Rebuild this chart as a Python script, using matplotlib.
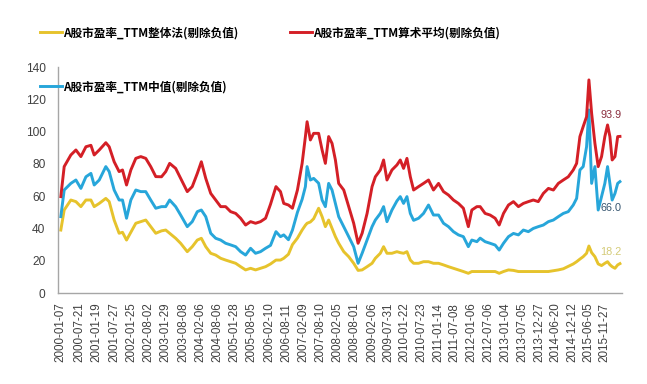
import matplotlib
matplotlib.use("Agg")
import matplotlib.pyplot as plt
import pandas as pd

plt.rcParams['font.family'] = ['Liberation Sans', 'Noto Sans CJK SC', 'DejaVu Sans']

dates = [
    "2000-01-07", "2000-02-12", "2000-04-23", "2000-06-16", "2000-08-08", "2000-10-01", "2000-11-23", "2000-12-28",
    "2001-02-20", "2001-05-01", "2001-06-06", "2001-07-29", "2001-09-20", "2001-10-26", "2001-12-08",
    "2002-01-23", "2002-03-17", "2002-05-09", "2002-07-01", "2002-08-23", "2002-10-16", "2002-12-16",
    "2003-01-30", "2003-03-13", "2003-05-16", "2003-07-08", "2003-09-17", "2003-11-09",
    "2004-01-02", "2004-02-14", "2004-04-01", "2004-05-24", "2004-07-16", "2004-09-07", "2004-10-30", "2004-12-22",
    "2005-02-14", "2005-04-08", "2005-05-31", "2005-07-23", "2005-09-14", "2005-11-06", "2005-12-30",
    "2006-02-21", "2006-04-20", "2006-06-07", "2006-07-12", "2006-08-31", "2006-10-13", "2006-12-05",
    "2007-01-24", "2007-02-28", "2007-03-18", "2007-04-22", "2007-05-27", "2007-07-19", "2007-08-25", "2007-09-29", "2007-11-03", "2007-12-09",
    "2008-01-14", "2008-02-18", "2008-04-12", "2008-06-04", "2008-07-27", "2008-09-12", "2008-10-25", "2008-12-17",
    "2009-02-08", "2009-03-15", "2009-05-07", "2009-06-11", "2009-07-17", "2009-09-08", "2009-10-31", "2009-12-06",
    "2010-01-10", "2010-02-15", "2010-03-23", "2010-04-27", "2010-06-19", "2010-08-11", "2010-10-03", "2010-11-25",
    "2011-01-18", "2011-03-12", "2011-05-04", "2011-06-26", "2011-08-18", "2011-10-10", "2011-12-02",
    "2012-01-08", "2012-03-02", "2012-04-06", "2012-05-29", "2012-07-21", "2012-09-13", "2012-10-26", "2012-12-11",
    "2013-02-02", "2013-03-27", "2013-05-19", "2013-07-11", "2013-09-02", "2013-10-25", "2013-12-17",
    "2014-02-09", "2014-04-04", "2014-05-27", "2014-07-19", "2014-09-10", "2014-11-02", "2014-12-25",
    "2015-01-30", "2015-03-06", "2015-04-10", "2015-05-16", "2015-06-10", "2015-07-09", "2015-08-13", "2015-09-17", "2015-10-23", "2015-11-27", "2015-12-26",
    "2016-01-20", "2016-02-13", "2016-03-14", "2016-04-12", "2016-05-06",
]

pe_mean = [
    59.7, 78.3, 85.5, 88.6, 84.5, 90.6, 91.5, 85.5,
    88.6, 93.1, 90.6, 81.3, 75.2, 76.2, 66.9,
    76.2, 83.4, 84.5, 83.4, 78.3, 72.1, 72.0,
    75.2, 80.3, 77.2, 71.0, 62.8, 65.9,
    74.1, 81.3, 71.0, 61.7, 57.6, 53.5, 53.5, 50.4,
    49.3, 46.3, 42.1, 44.2, 43.2, 44.2, 46.3,
    55.0, 65.9, 62.8, 55.5, 54.5, 52.5, 63.8,
    80.3, 96.9, 106.1, 94.8, 98.9, 98.9, 88.6, 80.3, 96.9, 92.7,
    82.4, 67.9, 63.8, 53.5, 43.2, 30.8, 37.0, 49.3,
    65.9, 72.0, 76.2, 82.4, 70.0, 76.2, 79.3, 82.4,
    77.2, 83.4, 72.0, 63.8, 65.9, 67.9, 70.0, 63.8,
    67.9, 62.8, 60.7, 57.6, 55.5, 52.5, 41.1,
    51.4, 53.5, 53.5, 49.3, 48.3, 46.3, 42.1, 49.3,
    54.5, 56.6, 53.5, 55.5, 56.6, 57.6, 56.6,
    61.7, 64.8, 63.8, 67.9, 70.0, 72.0, 76.2,
    80.3, 96.9, 103.1, 109.2, 132.0, 111.3, 92.7, 78.3, 84.5, 96.9, 104.1,
    96.9, 82.4, 84.5, 96.9, 97.0,
]

pe_median = [
    47.3, 63.8, 67.9, 70.0, 64.8, 72.0, 74.1, 66.9,
    70.0, 78.3, 75.2, 63.8, 57.6, 57.6, 46.3,
    57.6, 63.8, 62.8, 62.8, 57.6, 52.5, 53.5,
    53.5, 57.6, 53.5, 48.3, 41.1, 44.2,
    50.4, 51.4, 47.3, 37.0, 33.9, 32.8, 30.8, 29.8,
    28.7, 25.6, 23.5, 27.7, 24.6, 25.6, 27.7,
    29.5, 38.0, 34.9, 36.0, 33.0, 39.0, 50.0,
    58.0, 65.9, 78.3, 70.0, 71.0, 68.0, 57.6, 53.5, 67.9, 63.8,
    55.5, 47.3, 41.1, 34.9, 28.7, 18.4, 24.6, 32.8,
    41.1, 45.2, 49.3, 53.5, 44.2, 51.4, 57.0, 59.7,
    55.5, 59.7, 49.3, 45.0, 46.3, 49.3, 54.5, 48.3,
    48.3, 43.2, 41.1, 38.0, 36.0, 34.9, 28.7,
    32.8, 31.8, 34.0, 31.8, 30.8, 29.7, 26.6, 30.8,
    34.9, 36.9, 36.0, 39.0, 38.0, 40.0, 41.1,
    42.1, 44.2, 45.2, 47.3, 49.3, 50.4, 54.5,
    58.6, 76.2, 78.3, 90.6, 113.4, 67.9, 78.3, 51.4, 59.7, 67.9, 78.3,
    67.9, 57.6, 61.7, 67.9, 69.0,
]

pe_overall = [
    39.0, 51.4, 57.6, 56.6, 53.5, 57.6, 57.6, 53.5,
    55.5, 58.6, 56.6, 45.2, 37.0, 37.6, 32.8,
    37.6, 43.2, 44.2, 45.2, 41.1, 37.0, 38.5,
    39.0, 37.0, 33.9, 30.8, 25.6, 28.7,
    32.8, 33.9, 28.7, 24.6, 23.5, 21.5, 20.4, 19.4,
    18.4, 16.3, 14.3, 15.3, 14.3, 15.3, 16.3,
    18.0, 20.4, 20.4, 21.5, 24.0, 30.0, 34.0,
    39.0, 42.0, 43.2, 44.0, 46.0, 52.5, 47.3, 41.1, 45.2, 40.0,
    34.9, 30.8, 25.6, 22.5, 18.4, 14.0, 14.3, 16.3,
    18.4, 21.5, 24.6, 28.7, 24.6, 24.6, 25.6, 25.0,
    24.6, 25.6, 20.4, 18.4, 18.4, 19.4, 19.4, 18.4,
    18.4, 17.4, 16.3, 15.3, 14.3, 13.3, 12.2,
    13.3, 13.3, 13.3, 13.3, 13.3, 13.3, 12.2, 13.3,
    14.3, 14.0, 13.3, 13.3, 13.3, 13.3, 13.3,
    13.3, 13.3, 13.8, 14.3, 15.0, 16.5, 18.0,
    19.4, 21.0, 22.5, 24.6, 29.1, 25.0, 22.5, 18.0, 17.0, 18.4, 19.4,
    17.5, 16.3, 15.3, 17.4, 18.2,
]

tick_labels = [
    "2000-01-07", "2000-07-21", "2001-01-19", "2001-07-27", "2002-01-25", "2002-08-02",
    "2003-01-29", "2003-08-08", "2004-02-06", "2004-08-06", "2005-01-28", "2005-08-05",
    "2006-02-10", "2006-08-11", "2007-02-09", "2007-08-10", "2008-02-05", "2008-08-01",
    "2009-02-06", "2009-07-31", "2010-01-22", "2010-07-23", "2011-01-14", "2011-07-08",
    "2012-01-06", "2012-07-06", "2013-01-04", "2013-07-05", "2013-12-27", "2014-06-20",
    "2014-12-12", "2015-06-05", "2015-11-27",
]

series_names = ["A股市盈率_TTM整体法(剔除负值)", "A股市盈率_TTM算术平均(剔除负值)", "A股市盈率_TTM中值(剔除负值)"]
end_labels = ["18.2", "93.9", "66.0"]
end_label_y = [25.5, 110.5, 52.5]

c_yellow = "#E6C32C"
c_red = "#D41F26"
c_blue = "#27A6DA"

x = pd.to_datetime(dates)

fig = plt.figure(figsize=(6.47, 3.84), dpi=100)
ax = fig.add_axes([58 / 647, 1 - 293 / 384, (622 - 58) / 647, (293 - 67) / 384])

l_y, = ax.plot(x, pe_overall, color=c_yellow, lw=2.1, solid_joinstyle='round')
l_b, = ax.plot(x, pe_median, color=c_blue, lw=2.1, solid_joinstyle='round')
l_r, = ax.plot(x, pe_mean, color=c_red, lw=2.1, solid_joinstyle='round')

ax.set_ylim(0, 140)
ax.set_yticks(range(0, 141, 20))
ax.set_xlim(pd.Timestamp("1999-12-08"), pd.Timestamp("2016-05-28"))
ax.set_xticks(pd.to_datetime(tick_labels))
ax.set_xticklabels(tick_labels, rotation=90, fontsize=8.4, color="#404040")
ax.tick_params(axis='y', labelsize=8.6, labelcolor="#404040", length=0, pad=9)
ax.tick_params(axis='x', length=0, pad=7)
for s in ["top", "right"]:
    ax.spines[s].set_visible(False)
for s in ["left", "bottom"]:
    ax.spines[s].set_color("#A6A6A6")
    ax.spines[s].set_linewidth(1.0)

# end-value labels
label_x = pd.Timestamp("2016-05-20")
label_colors = ["#D4CB78", "#8A2D3D", "#34546E"]
for txt, yv, col in zip(end_labels, end_label_y, label_colors):
    ax.text(label_x, yv, txt, color=col, fontsize=7.8, ha='right', va='center')

leg_font = dict(family=['Noto Sans CJK SC', 'DejaVu Sans'], weight='bold', size=8.4)
common = dict(frameon=False, borderpad=0, borderaxespad=0, handlelength=1.9,
              handletextpad=0.1, prop=leg_font, loc='center left')
fig.legend([l_y], [series_names[0]], bbox_to_anchor=(40 / 647, 1 - 33 / 384), **common)
fig.legend([l_r], [series_names[1]], bbox_to_anchor=(290 / 647, 1 - 33 / 384), **common)
fig.legend([l_b], [series_names[2]], bbox_to_anchor=(40 / 647, 1 - 87 / 384), **common)

fig.savefig("out.png", dpi=100)
